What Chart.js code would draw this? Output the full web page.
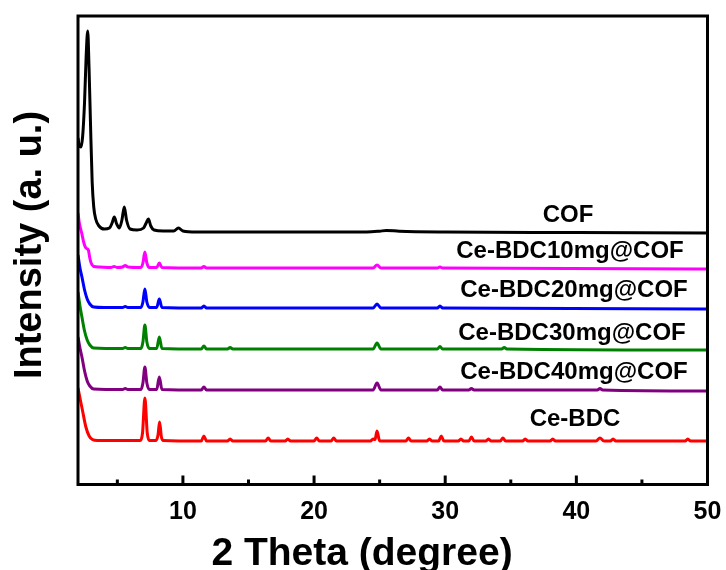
<!DOCTYPE html>
<html>
<head>
<meta charset="utf-8">
<script src="https://cdn.jsdelivr.net/npm/chart.js@4.4.1/dist/chart.umd.min.js"></script>
<style>
  body { margin: 0; background: #fff; }
  #wrap { width: 726px; height: 570px; }
</style>
</head>
<body>
<div id="wrap"><canvas id="xrdChart" width="726" height="570"></canvas></div>
<script>
var seriesNames = ['COF', 'Ce-BDC10mg@COF', 'Ce-BDC20mg@COF', 'Ce-BDC30mg@COF', 'Ce-BDC40mg@COF', 'Ce-BDC'];
var seriesColors = ['#000000', '#ff00ff', '#0000ff', '#008000', '#800080', '#ff0000'];
var seriesOffsets = [252.5, 216.5, 176.5, 135.5, 94.5, 43.5];
var xTicks = [5, 10, 15, 20, 25, 30, 35, 40, 45, 50];

var cofData = [[2.0,94],[2.1,86],[2.22,85],[2.35,95],[2.5,130],[2.62,175],[2.74,201],[2.84,165],[2.95,110],
    [3.08,50],[3.2,25],[3.35,13],[3.6,6],[4.0,3],[4.4,4],[4.6,9],[4.77,15],[4.95,8],[5.15,4],[5.35,12],
    [5.53,25],[5.7,12],[5.97,3],[6.5,2],[7.0,4],[7.2,9],[7.37,13],[7.55,6],[7.8,2],[8.5,1],[9.3,1],
    [9.66,4],[10.0,1],[11,0],[15,0],[20,0],[24,0],[25,0.8],[25.5,1.5],[26.5,0.8],[30,0],[40,-0.5],[50,-1]];
var ce10Data = [[2.0,55],[2.1,45],[2.28,35],[2.45,25],[2.6,20],[2.79,18],[2.9,10],[3.0,5],[3.2,1.5],[3.6,1],
    [4.5,0.5],[4.75,1.5],[5.0,0.5],[5.4,1],[5.6,2.5],[5.8,1],[6.8,0.5],[6.95,5],[7.1,16],[7.25,5],[7.45,0.5],
    [8.0,0.5],[8.2,5],[8.4,0.5],[11.4,0],[11.6,1.5],[11.8,0],[24.5,0],[24.8,3],[25.1,0],[29.4,0],[29.6,1],
    [29.8,0],[50,-1]];
var ce20Data = [[2.0,53],[2.15,40],[2.3,31],[2.5,18],[2.7,9],[2.9,4],[3.2,1],[4,0.5],[5.4,0.5],[5.6,1.5],
    [5.8,0.5],[6.8,0.5],[6.95,6],[7.1,19],[7.25,6],[7.45,0.5],[8.0,0.5],[8.2,9],[8.4,0.5],[11.4,0],[11.6,2],
    [11.8,0],[24.5,0],[24.8,4],[25.1,0],[29.4,0],[29.6,2],[29.8,0],[50,-1]];
var ce30Data = [[2.0,57],[2.15,43],[2.3,32],[2.5,18],[2.7,9],[2.9,4],[3.2,1],[5.4,0.5],[5.6,1.5],[5.8,0.5],
    [6.8,0.5],[6.95,7],[7.1,24],[7.25,7],[7.45,0.5],[8.0,0.5],[8.2,12],[8.4,0.5],[11.4,0],[11.6,3],[11.8,0],
    [13.4,0],[13.6,1.5],[13.8,0],[24.5,0],[24.8,6],[25.1,0],[29.4,0],[29.6,2.5],[29.8,0],[34.3,0],[34.5,1.5],
    [34.7,0],[50,-1]];
var ce40Data = [[2.0,53],[2.15,42],[2.3,33],[2.5,19],[2.7,9],[2.9,4],[3.2,1],[5.4,0.5],[5.6,1.5],[5.8,0.5],
    [6.8,0.5],[6.95,7],[7.1,23],[7.25,7],[7.45,0.5],[8.0,0.5],[8.2,13],[8.4,0.5],[11.4,0],[11.6,3],[11.8,0],
    [24.5,0],[24.8,7],[25.1,0],[29.4,0],[29.6,3],[29.8,0],[31.8,0],[32.0,1.5],[32.2,0],[41.6,0],[41.8,1.5],
    [42.0,0],[50,-1]];
var ceBdcData = [[2.0,53],[2.15,43],[2.35,30],[2.6,14],[2.85,5],[3.1,1.5],[3.5,0.5],[6.75,0.5],[6.92,8],
    [7.1,43],[7.28,8],[7.45,0.5],[7.95,0.5],[8.1,6],[8.22,19],[8.36,4],[8.5,0.5],[11.4,0],[11.6,5],[11.8,0],
    [13.4,0],[13.6,2],[13.8,0],[16.3,0],[16.5,3],[16.7,0],[17.8,0],[18.0,2],[18.2,0],[20.0,0],[20.2,3],
    [20.4,0],[21.3,0],[21.5,3],[21.7,0],[24.3,0],[24.5,2],[24.65,1.5],[24.8,10],[25.0,0],[27.0,0],[27.2,3],
    [27.4,0],[28.6,0],[28.8,2],[29.0,0],[29.5,0],[29.7,5],[29.9,0],[31.0,0],[31.2,2],[31.4,0],[31.8,0],
    [32.0,4],[32.2,0],[33.1,0],[33.3,2],[33.5,0],[34.2,0],[34.4,3],[34.6,0],[35.9,0],[36.1,2],[36.3,0],
    [38.0,0],[38.2,2],[38.4,0],[41.5,0],[41.8,3],[42.1,0],[42.6,0],[42.8,2],[43.0,0],[48.3,0],[48.5,2],
    [48.7,0],[50,0]];

var allSeries = [cofData, ce10Data, ce20Data, ce30Data, ce40Data, ceBdcData];

var fontFam = '"Liberation Sans", Arial, Helvetica, sans-serif';

// label centres in pixels (layout only)
var labelPos = [[568, 215], [570, 251], [574, 290], [572, 333], [574, 372], [575, 419]];

var datasets = [];
for (var i = 0; i < allSeries.length; i++) {
    var pts = allSeries[i].map(function (p) { return { x: p[0], y: p[1] + seriesOffsets[i] }; });
    datasets.push({
        label: seriesNames[i],
        data: pts,
        borderColor: seriesColors[i],
        borderWidth: 3,
        pointRadius: 0,
        fill: false,
        cubicInterpolationMode: 'monotone'
    });
}

var framePlugin = {
    id: 'framePlugin',
    afterDraw: function (chart) {
        var ctx = chart.ctx;
        var a = chart.chartArea;
        var xs = chart.scales.x;
        ctx.save();
        // box
        ctx.strokeStyle = '#000';
        ctx.lineWidth = 3;
        ctx.strokeRect(a.left, a.top, a.right - a.left, a.bottom - a.top);
        // inward ticks
        xTicks.forEach(function (v) {
            if (v >= 50) return;
            var px = xs.getPixelForValue(v);
            var len = (v % 10 === 0) ? 9 : 5;
            ctx.beginPath();
            ctx.moveTo(px, a.bottom);
            ctx.lineTo(px, a.bottom - len);
            ctx.stroke();
        });
        // series labels
        ctx.fillStyle = '#000';
        ctx.font = 'bold 24px ' + fontFam;
        ctx.textAlign = 'center';
        ctx.textBaseline = 'middle';
        for (var k = 0; k < seriesNames.length; k++) {
            ctx.fillText(seriesNames[k], labelPos[k][0], labelPos[k][1]);
        }
        // axis titles
        ctx.font = 'bold 39px ' + fontFam;
        ctx.textBaseline = 'alphabetic';
        ctx.fillText('2 Theta (degree)', 362, 565);
        ctx.translate(41, 245);
        ctx.rotate(-Math.PI / 2);
        ctx.font = 'bold 38px ' + fontFam;
        ctx.fillText('Intensity (a. u.)', 0, 0);
        ctx.restore();
    }
};

var xrdChart = new Chart(document.getElementById('xrdChart').getContext('2d'), {
    type: 'line',
    data: { datasets: datasets },
    options: {
        responsive: false,
        animation: false,
        layout: { padding: { left: 78, right: 18.5, top: 16, bottom: 0 } },
        plugins: { legend: { display: false }, tooltip: { enabled: false } },
        scales: {
            x: {
                type: 'linear',
                min: 2,
                max: 50,
                afterFit: function (scale) {
                    scale.height = 85.5;
                    scale.paddingLeft = 0;
                    scale.paddingRight = 0;
                },
                afterBuildTicks: function (scale) {
                    scale.ticks = xTicks.map(function (v) { return { value: v }; });
                },
                grid: { display: false, drawTicks: false },
                border: { display: false },
                ticks: {
                    autoSkip: false,
                    maxRotation: 0,
                    padding: 13,
                    color: '#000',
                    font: { family: fontFam, size: 25, weight: 'bold' },
                    callback: function (v) { return (v % 10 === 0) ? String(v) : ''; }
                }
            },
            y: {
                type: 'linear',
                min: 0,
                max: 468.5,
                display: false
            }
        }
    },
    plugins: [framePlugin]
});
</script>
</body>
</html>
